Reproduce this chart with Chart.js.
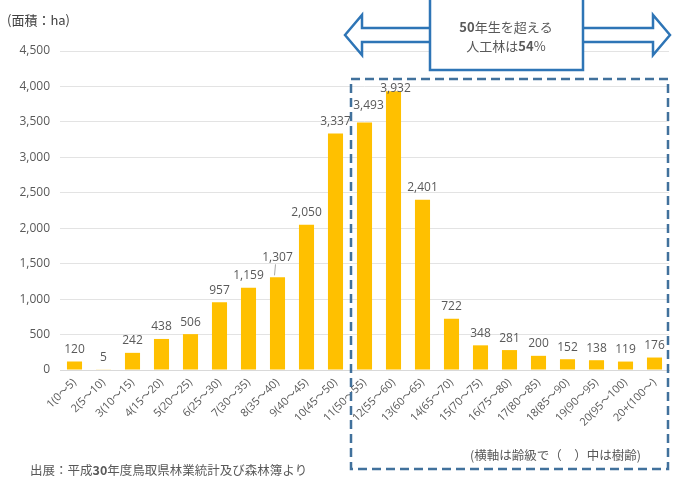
<!DOCTYPE html>
<html><head><meta charset="utf-8">
<script src="https://cdn.jsdelivr.net/npm/chart.js@4"></script>
<style>html,body{margin:0;padding:0;background:#fff}#wrap{width:676px;height:478px;position:relative}</style>
</head><body><div id="wrap"><canvas id="c" width="676" height="478"></canvas></div>
<script>
const categories = ["1(0～5)","2(5～10)","3(10～15)","4(15～20)","5(20～25)","6(25～30)","7(30～35)","8(35～40)","9(40～45)","10(45～50)","11(50～55)","12(55～60)","13(60～65)","14(65～70)","15(70～75)","16(75～80)","17(80～85)","18(85～90)","19(90～95)","20(95～100)","20+(100～)"];
const areaHa = [120,5,242,438,506,957,1159,1307,2050,3337,3493,3932,2401,722,348,281,200,152,138,119,176];
const yTicks = [0,500,1000,1500,2000,2500,3000,3500,4000,4500];
const unitLabel = "(面積：ha)";
const sourceNote = [["出展：平成",false],["30",true],["年度鳥取県林業統計及び森林簿より",false]];
const axisNote = "(横軸は齢級で（　）中は樹齢)";
const calloutLines = [[["50",true],["年生を超える",false]],[["人工林は",false],["54",true],["%",false]]];

const FONT = "'Open Sans','Noto Sans CJK JP',sans-serif";
const JFONT = "'Noto Sans CJK JP','Open Sans',sans-serif";

const fmt = v => v.toLocaleString('en-US');

function drawRich(ctx, parts, x, y, size, align){
  const fonts = parts.map(p => (p[1] ? "bold " : "") + size + "px " + JFONT);
  let total = 0;
  const widths = parts.map((p,i)=>{ ctx.font = fonts[i]; const w = ctx.measureText(p[0]).width; total += w; return w; });
  let cx = align === 'center' ? x - total/2 : x;
  ctx.textAlign = 'left';
  parts.forEach((p,i)=>{ ctx.font = fonts[i]; ctx.fillText(p[0], cx, y); cx += widths[i]; });
}

const overlay = {
  id:'overlay',
  afterDatasetsDraw(chart){
    const ctx = chart.ctx, x = chart.scales.x;
    ctx.save();
    ctx.fillStyle = '#595959';
    ctx.font = "12px " + FONT;
    ctx.textAlign = 'center';
    ctx.textBaseline = 'bottom';
    const meta = chart.getDatasetMeta(0);
    meta.data.forEach((bar,i)=>{
      let dy = 6, dx = 0;
      if (i===7) dy = 14;
      if (i===10) { dx = 4; dy = 11; }
      if (i===11) { dy = -3; dx = 2; }
      ctx.fillText(fmt(areaHa[i]), bar.x + dx, bar.y - dy);
      if (i===7){
        ctx.strokeStyle='#a6a6a6'; ctx.lineWidth=1;
        ctx.beginPath(); ctx.moveTo(bar.x-2, bar.y-13); ctx.lineTo(bar.x-3, bar.y-2); ctx.stroke();
      }
    });
    ctx.textBaseline='middle';
    ctx.fillStyle='#404040';
    drawRich(ctx, [[unitLabel,false]], 7, 20, 13, 'left');
    ctx.fillStyle='#595959';
    drawRich(ctx, sourceNote, 30, 470, 12.5, 'left');
    drawRich(ctx, [[axisNote,false]], 470, 455, 12.5, 'left');
    // dashed box
    const left = (x.getPixelForValue(9) + x.getPixelForValue(10))/2 + 1;
    const right = chart.chartArea.right - 1;
    ctx.strokeStyle = '#41719c';
    ctx.lineWidth = 2.5;
    ctx.setLineDash([9,5]);
    ctx.strokeRect(left, 79, right - left, 390);
    ctx.setLineDash([]);
    // double arrow
    const ax1 = 345, ax2 = 670, cy = 35;
    ctx.strokeStyle = '#2e75b6';
    ctx.fillStyle = '#ffffff';
    ctx.lineWidth = 2.5;
    ctx.beginPath();
    ctx.moveTo(ax1, cy);
    ctx.lineTo(ax1+17, cy-20);
    ctx.lineTo(ax1+17, cy-7);
    ctx.lineTo(ax2-17, cy-7);
    ctx.lineTo(ax2-17, cy-20);
    ctx.lineTo(ax2, cy);
    ctx.lineTo(ax2-17, cy+20);
    ctx.lineTo(ax2-17, cy+7);
    ctx.lineTo(ax1+17, cy+7);
    ctx.lineTo(ax1+17, cy+20);
    ctx.closePath();
    ctx.fill(); ctx.stroke();
    ctx.fillRect(430, -2, 153, 72);
    ctx.strokeRect(430, -2, 153, 72);
    ctx.fillStyle = '#595959';
    drawRich(ctx, calloutLines[0], 506, 27, 13, 'center');
    drawRich(ctx, calloutLines[1], 506, 46, 13, 'center');
    ctx.restore();
  }
};

new Chart(document.getElementById('c'), {
  type:'bar',
  data:{ labels:categories, datasets:[{ data:areaHa, backgroundColor:'#ffc000', barPercentage:0.52, categoryPercentage:1 }]},
  options:{
    responsive:false, animation:false,
    layout:{ padding:{ left:0, right:7, top:51, bottom:0 } },
    plugins:{ legend:{display:false}, tooltip:{enabled:false} },
    scales:{
      x:{
        grid:{ display:false, drawTicks:false },
        border:{ color:'#d9d9d9' },
        ticks:{ color:'#595959', font:{ size:11, family:FONT }, maxRotation:45, minRotation:45, padding:6, autoSkip:false },
        afterFit(s){ s.height = 108; }
      },
      y:{
        min:0, max:4500,
        afterBuildTicks(s){ s.ticks = yTicks.map(v=>({value:v})); },
        grid:{ color:'#e3e3e3', drawTicks:false },
        border:{ display:false },
        ticks:{ color:'#595959', font:{ size:12, family:FONT }, padding:10, callback:v=>fmt(v) },
        afterFit(s){ s.width = 60; }
      }
    }
  },
  plugins:[overlay]
});
</script></body></html>
